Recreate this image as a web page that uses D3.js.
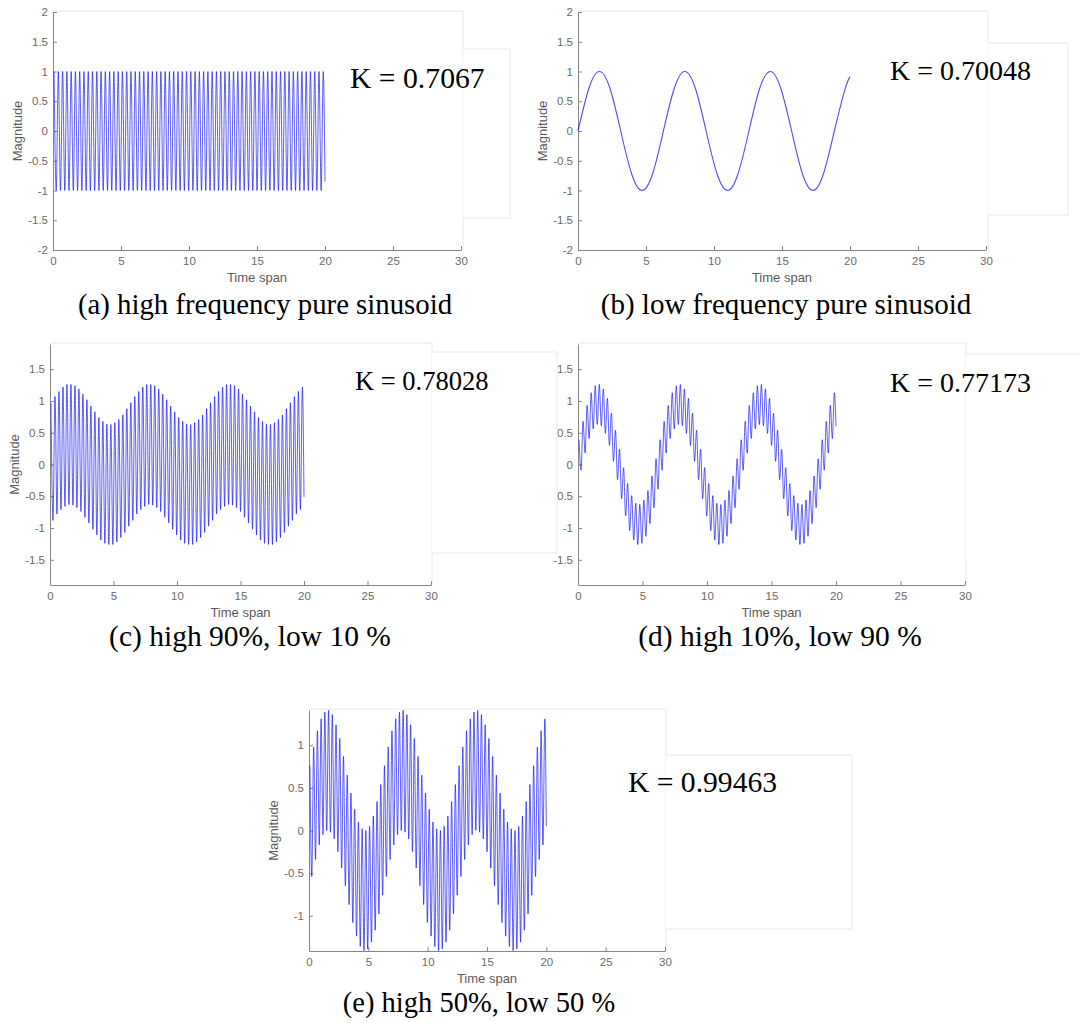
<!DOCTYPE html>
<html>
<head>
<meta charset="utf-8">
<script src="https://cdn.jsdelivr.net/npm/d3@7/dist/d3.min.js"></script>
<style>
  body { margin: 0; background: #fff; }
  .axis path, .axis line { stroke: #858585; stroke-width: 1; }
  .axis text { font-family: "Liberation Sans", Arial, sans-serif; font-size: 11.5px; fill: #6a6a6a; }
  .axisLabel { font-family: "Liberation Sans", Arial, sans-serif; font-size: 13px; fill: #5a5a5a; text-anchor: middle; }
  .kText, .caption { font-family: "Liberation Serif", "Times New Roman", serif; fill: #000; }
</style>
</head>
<body>
<div id="chart"></div>
<script>
// ---- data ----
// the fast component: successive peaks / troughs, one every peakStep seconds from firstPeak
const firstPeak = 0.0785;
const peakStep = 0.1571;
const endTime = 20;

// (a) high frequency pure sinusoid
const highPeaks = [1,-1,1,-1,1,-1,1,-1,1,-1,1,-1,1,-1,1,-1,1,-1,1,-1,1,-1,1,-1,1,-1,1,-1,1,-1,1,-1,
  1,-1,1,-1,1,-1,1,-1,1,-1,1,-1,1,-1,1,-1,1,-1,1,-1,1,-1,1,-1,1,-1,1,-1,1,-1,1,-1,
  1,-1,1,-1,1,-1,1,-1,1,-1,1,-1,1,-1,1,-1,1,-1,1,-1,1,-1,1,-1,1,-1,1,-1,1,-1,1,-1,
  1,-1,1,-1,1,-1,1,-1,1,-1,1,-1,1,-1,1,-1,1,-1,1,-1,1,-1,1,-1,1,-1,1,-1,1,-1,1];
const highEnd = -0.85;

// (b) low frequency pure sinusoid
const lowTimes = [0, 0.79, 1.57, 2.36, 3.14, 3.93, 4.71, 5.50, 6.28, 7.07, 7.85, 8.64, 9.42, 10.21,
  11.0, 11.78, 12.57, 13.35, 14.14, 14.92, 15.71, 16.49, 17.28, 18.06, 18.85, 19.63, 20];
const lowValues = [0, 0.71, 1, 0.71, 0, -0.71, -1, -0.71, 0, 0.71, 1, 0.71, 0, -0.71,
  -1, -0.71, 0, 0.71, 1, 0.71, 0, -0.71, -1, -0.71, 0, 0.70, 0.91];

// (c) high 90%, low 10 %
const mix90Peaks = [
  0.97,-0.88,1.07,-0.78,1.15,-0.71,1.22,-0.66,1.26,-0.63,1.26,-0.64,1.24,-0.68,1.19,-0.74,1.11,-0.83,1.02,-0.92,
  0.92,-1.02,0.83,-1.11,0.74,-1.19,0.68,-1.24,0.64,-1.26,0.63,-1.26,0.66,-1.22,0.71,-1.15,0.78,-1.07,0.88,-0.97,
  0.97,-0.88,1.07,-0.78,1.15,-0.71,1.22,-0.66,1.26,-0.63,1.26,-0.64,1.24,-0.68,1.19,-0.74,1.11,-0.83,1.02,-0.92,
  0.92,-1.02,0.83,-1.11,0.74,-1.19,0.68,-1.24,0.64,-1.26,0.63,-1.26,0.66,-1.22,0.71,-1.15,0.78,-1.07,0.88,-0.97,
  0.97,-0.88,1.07,-0.78,1.15,-0.71,1.22,-0.66,1.26,-0.63,1.26,-0.64,1.24,-0.68,1.19,-0.74,1.11,-0.83,1.02,-0.92,
  0.92,-1.02,0.83,-1.11,0.74,-1.19,0.68,-1.24,0.64,-1.26,0.63,-1.26,0.66,-1.22,0.71,-1.15,0.78,-1.07,0.88,-0.97,
  0.97,-0.88,1.07,-0.78,1.15,-0.71,1.22];
const mix90End = -0.51;

// (d) high 10%, low 90 %
const mix10Peaks = [
  0.39,-0.09,0.68,0.18,0.93,0.41,1.13,0.56,1.24,0.63,1.26,0.61,1.19,0.49,1.04,0.30,0.81,0.05,0.54,-0.24,
  0.24,-0.54,-0.05,-0.81,-0.30,-1.04,-0.49,-1.19,-0.61,-1.26,-0.63,-1.24,-0.56,-1.13,-0.41,-0.93,-0.18,-0.68,0.09,-0.39,
  0.39,-0.09,0.68,0.18,0.93,0.41,1.13,0.56,1.24,0.63,1.26,0.61,1.19,0.49,1.04,0.30,0.81,0.05,0.54,-0.24,
  0.24,-0.54,-0.05,-0.81,-0.30,-1.04,-0.49,-1.19,-0.61,-1.26,-0.63,-1.24,-0.56,-1.13,-0.41,-0.93,-0.18,-0.68,0.09,-0.39,
  0.39,-0.09,0.68,0.18,0.93,0.41,1.13,0.56,1.24,0.63,1.26,0.61,1.19,0.49,1.04,0.30,0.81,0.05,0.54,-0.24,
  0.24,-0.54,-0.05,-0.81,-0.30,-1.04,-0.49,-1.19,-0.61,-1.26,-0.63,-1.24,-0.56,-1.13,-0.41,-0.93,-0.18,-0.68,0.09,-0.39,
  0.39,-0.09,0.68,0.18,0.93,0.41,1.13];
const mix10End = 0.60;

// (e) high 50%, low 50 %
const mix50Peaks = [
  0.76,-0.54,0.98,-0.34,1.17,-0.17,1.31,-0.05,1.39,0.00,1.41,-0.02,1.36,-0.10,1.24,-0.25,1.08,-0.44,0.87,-0.65,
  0.65,-0.87,0.44,-1.08,0.25,-1.24,0.10,-1.36,0.02,-1.41,0.00,-1.39,0.05,-1.31,0.17,-1.17,0.34,-0.98,0.54,-0.76,
  0.76,-0.54,0.98,-0.34,1.17,-0.17,1.31,-0.05,1.39,0.00,1.41,-0.02,1.36,-0.10,1.24,-0.25,1.08,-0.44,0.87,-0.65,
  0.65,-0.87,0.44,-1.08,0.25,-1.24,0.10,-1.36,0.02,-1.41,0.00,-1.39,0.05,-1.31,0.17,-1.17,0.34,-0.98,0.54,-0.76,
  0.76,-0.54,0.98,-0.34,1.17,-0.17,1.31,-0.05,1.39,0.00,1.41,-0.02,1.36,-0.10,1.24,-0.25,1.08,-0.44,0.87,-0.65,
  0.65,-0.87,0.44,-1.08,0.25,-1.24,0.10,-1.36,0.02,-1.41,0.00,-1.39,0.05,-1.31,0.17,-1.17,0.34,-0.98,0.54,-0.76,
  0.76,-0.54,0.98,-0.34,1.17,-0.17,1.31];
const mix50End = 0.05;

// labels and ticks
const kValues = ["K = 0.7067", "K = 0.70048", "K = 0.78028", "K = 0.77173", "K = 0.99463"];
const captions = ["(a) high frequency pure sinusoid", "(b) low frequency pure sinusoid",
  "(c) high 90%, low 10 %", "(d) high 10%, low 90 %", "(e) high 50%, low 50 %"];
const xTicks = [0, 5, 10, 15, 20, 25, 30];
const yTicksWide = [-2, -1.5, -1, -0.5, 0, 0.5, 1, 1.5, 2];
const yTicksMid = [-1.5, -1, -0.5, 0, 0.5, 1, 1.5];
const yTicksTight = [-1, -0.5, 0, 0.5, 1];
const xLabel = "Time span";
const yLabel = "Magnitude";

// ---- build series ----
function peakSeries(peaks, endVal) {
    const pts = peaks.map(function(v, i) { return [firstPeak + i * peakStep, v]; });
    pts.push([endTime, endVal]);
    return pts;
}
const lowSeries = lowTimes.map(function(t, i) { return [t, lowValues[i]]; });

// ---- layout of the five panels (pixels) ----
const panels = [
    {series: peakSeries(highPeaks, highEnd), curve: d3.curveMonotoneX, yDom: [-2, 2], yTicks: yTicksWide,
     left: 53, right: 461, top: 12, bottom: 250, frameRight: 463,
     box: {x0: 463, y0: 49, x1: 510, y1: 218, sides: "trb"},
     k: {x: 350, y: 88, size: 29.7}, cap: {x: 265, y: 314, size: 28.8}},
    {series: lowSeries, curve: d3.curveNatural, yDom: [-2, 2], yTicks: yTicksWide,
     left: 578, right: 986, top: 12, bottom: 250, frameRight: 988,
     box: {x0: 988, y0: 43, x1: 1068, y1: 215, sides: "trb"},
     k: {x: 890, y: 80, size: 28}, cap: {x: 786, y: 314, size: 29}},
    {series: peakSeries(mix90Peaks, mix90End), curve: d3.curveMonotoneX, yDom: [-1.897, 1.897], yTicks: yTicksMid,
     left: 50, right: 431, top: 344, bottom: 585, frameRight: 432,
     box: {x0: 432, y0: 352, x1: 557, y1: 553, sides: "trb"},
     k: {x: 355, y: 390, size: 26.5}, cap: {x: 250, y: 646, size: 29.5}},
    {series: peakSeries(mix10Peaks, mix10End), curve: d3.curveMonotoneX, yDom: [-1.897, 1.897], yTicks: yTicksMid,
     left: 578, right: 965, top: 344, bottom: 585, frameRight: 966,
     box: {x0: 966, y0: 354, x1: 1081, y1: 560, sides: "t"},
     k: {x: 890, y: 392, size: 28}, cap: {x: 780, y: 646, size: 29.5}},
    {series: peakSeries(mix50Peaks, mix50End), curve: d3.curveMonotoneX, yDom: [-1.414, 1.414], yTicks: yTicksTight,
     left: 309, right: 665, top: 710, bottom: 951, frameRight: 666,
     box: {x0: 666, y0: 755, x1: 852, y1: 929, sides: "trb"},
     k: {x: 628, y: 792, size: 29.6}, cap: {x: 479, y: 1012, size: 28.5}}
];

const width = 1081;
const height = 1023;

const svg = d3.select("#chart")
    .append("svg")
    .attr("width", width)
    .attr("height", height);

const frameLayer = svg.append("g");
const plotLayer = svg.append("g");
const boxLayer = svg.append("g");
const textLayer = svg.append("g");

panels.forEach(function(p, i) {
    const xScale = d3.scaleLinear().domain([0, 30]).range([p.left, p.right]);
    const yScale = d3.scaleLinear().domain(p.yDom).range([p.bottom, p.top]);

    // faint screenshot border
    frameLayer.append("line")
        .attr("x1", p.left).attr("x2", p.frameRight).attr("y1", p.top - 1).attr("y2", p.top - 1)
        .attr("stroke", "#e8e8e8");
    frameLayer.append("line")
        .attr("x1", p.frameRight).attr("x2", p.frameRight).attr("y1", p.top - 1).attr("y2", p.bottom)
        .attr("stroke", "#e8e8e8");

    // axes, ticks pointing inward like matlab
    plotLayer.append("g")
        .attr("class", "axis")
        .attr("transform", `translate(0,${p.bottom})`)
        .call(d3.axisBottom(xScale).tickValues(xTicks).tickSizeInner(-4).tickSizeOuter(0).tickPadding(7)
            .tickFormat(function(d) { return String(d); }))
        .attr("font-family", null).attr("font-size", null);

    plotLayer.append("g")
        .attr("class", "axis")
        .attr("transform", `translate(${p.left},0)`)
        .call(d3.axisLeft(yScale).tickValues(p.yTicks).tickSizeInner(-4).tickSizeOuter(0).tickPadding(5)
            .tickFormat(function(d) { return String(d); }))
        .attr("font-family", null).attr("font-size", null);

    // the signal
    const line = d3.line()
        .x(function(d) { return xScale(d[0]); })
        .y(function(d) { return yScale(d[1]); })
        .curve(p.curve);

    plotLayer.append("path")
        .datum(p.series)
        .attr("d", line)
        .attr("fill", "none")
        .attr("stroke", "#0000ff")
        .attr("stroke-opacity", i === 1 ? 0.7 : 0.85)
        .attr("stroke-width", i === 1 ? 1.1 : 0.75);

    // axis titles
    plotLayer.append("text")
        .attr("class", "axisLabel")
        .attr("x", (p.left + p.right) / 2)
        .attr("y", p.bottom + 32)
        .text(xLabel);

    plotLayer.append("text")
        .attr("class", "axisLabel")
        .attr("transform", "rotate(-90)")
        .attr("x", -(p.top + p.bottom) / 2)
        .attr("y", p.left - 31)
        .text(yLabel);

    // white box holding the K value
    const b = p.box;
    boxLayer.append("rect")
        .attr("x", b.x0).attr("y", b.y0)
        .attr("width", b.x1 - b.x0).attr("height", b.y1 - b.y0)
        .attr("fill", "#fff");
    if (b.sides.includes("t")) {
        boxLayer.append("line").attr("x1", b.x0).attr("x2", b.x1).attr("y1", b.y0).attr("y2", b.y0).attr("stroke", "#e8e8e8");
    }
    if (b.sides.includes("r")) {
        boxLayer.append("line").attr("x1", b.x1).attr("x2", b.x1).attr("y1", b.y0).attr("y2", b.y1).attr("stroke", "#e8e8e8");
    }
    if (b.sides.includes("b")) {
        boxLayer.append("line").attr("x1", b.x0).attr("x2", b.x1).attr("y1", b.y1).attr("y2", b.y1).attr("stroke", "#e8e8e8");
    }

    textLayer.append("text")
        .attr("class", "kText")
        .attr("x", p.k.x)
        .attr("y", p.k.y)
        .attr("font-size", p.k.size)
        .text(kValues[i]);

    textLayer.append("text")
        .attr("class", "caption")
        .attr("x", p.cap.x)
        .attr("y", p.cap.y)
        .attr("font-size", p.cap.size)
        .attr("text-anchor", "middle")
        .text(captions[i]);
});
</script>
</body>
</html>
